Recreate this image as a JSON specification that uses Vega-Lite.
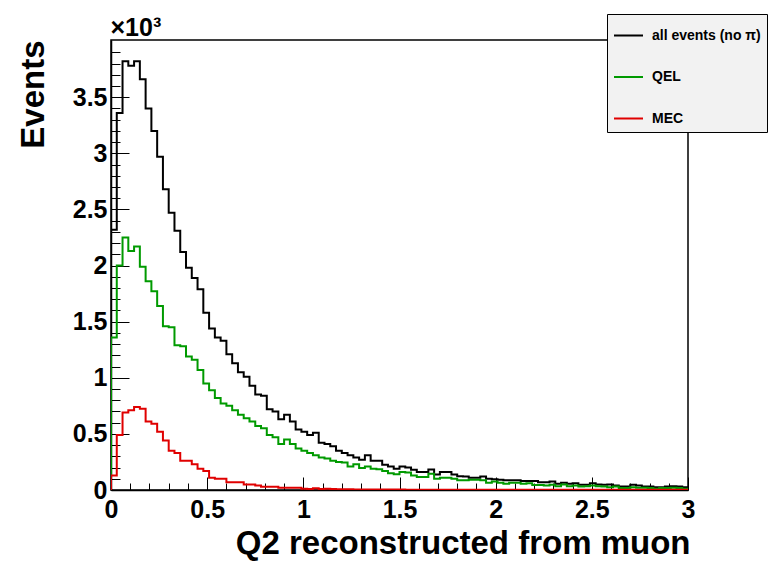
{
  "$schema": "https://vega.github.io/schema/vega-lite/v6.json",
  "width": 577,
  "height": 450,
  "autosize": {"type": "none"},
  "padding": {"left": 111, "top": 40, "right": 86, "bottom": 72},
  "background": "white",
  "config": {
    "view": {"stroke": "#000", "strokeWidth": 1.5},
    "font": "Liberation Sans",
    "axis": {"domainColor": "#000", "domainWidth": 1.5, "tickColor": "#000", "tickWidth": 1, "labelColor": "#000", "titleColor": "#000", "labelFont": "Liberation Sans", "labelFontWeight": "bold", "labelFontSize": 25, "titleFont": "Liberation Sans", "titleFontWeight": "bold", "titleFontSize": 33, "grid": false}
  },
  "data": {"values": [
    {"i":0,"x":0,"a":0,"q":0,"m":0},
    {"i":1,"x":0,"a":2.32,"q":1.36,"m":0.13},
    {"i":2,"x":0.03,"a":3.36,"q":2.00,"m":0.49},
    {"i":3,"x":0.06,"a":3.82,"q":2.25,"m":0.69},
    {"i":4,"x":0.09,"a":3.78,"q":2.13,"m":0.71},
    {"i":5,"x":0.12,"a":3.82,"q":2.17,"m":0.74},
    {"i":6,"x":0.15,"a":3.66,"q":1.99,"m":0.725},
    {"i":7,"x":0.18,"a":3.40,"q":1.86,"m":0.61},
    {"i":8,"x":0.21,"a":3.20,"q":1.77,"m":0.59},
    {"i":9,"x":0.24,"a":2.97,"q":1.64,"m":0.52},
    {"i":10,"x":0.27,"a":2.68,"q":1.46,"m":0.44},
    {"i":11,"x":0.30,"a":2.47,"q":1.45,"m":0.35},
    {"i":12,"x":0.33,"a":2.31,"q":1.29,"m":0.33},
    {"i":13,"x":0.36,"a":2.12,"q":1.28,"m":0.26},
    {"i":14,"x":0.39,"a":1.98,"q":1.19,"m":0.26},
    {"i":15,"x":0.42,"a":1.89,"q":1.16,"m":0.23},
    {"i":16,"x":0.45,"a":1.79,"q":1.07,"m":0.19},
    {"i":17,"x":0.48,"a":1.58,"q":0.95,"m":0.17},
    {"i":18,"x":0.51,"a":1.44,"q":0.89,"m":0.11},
    {"i":19,"x":0.54,"a":1.36,"q":0.82,"m":0.10},
    {"i":20,"x":0.57,"a":1.33,"q":0.77,"m":0.10},
    {"i":21,"x":0.60,"a":1.21,"q":0.75,"m":0.07},
    {"i":22,"x":0.63,"a":1.13,"q":0.71,"m":0.07},
    {"i":23,"x":0.66,"a":1.05,"q":0.67,"m":0.07},
    {"i":24,"x":0.69,"a":1.01,"q":0.64,"m":0.05},
    {"i":25,"x":0.72,"a":0.93,"q":0.61,"m":0.05},
    {"i":26,"x":0.75,"a":0.85,"q":0.57,"m":0.04},
    {"i":27,"x":0.78,"a":0.84,"q":0.55,"m":0.03},
    {"i":28,"x":0.81,"a":0.72,"q":0.49,"m":0.03},
    {"i":29,"x":0.84,"a":0.70,"q":0.47,"m":0.03},
    {"i":30,"x":0.87,"a":0.63,"q":0.41,"m":0.02},
    {"i":31,"x":0.90,"a":0.67,"q":0.45,"m":0.02},
    {"i":32,"x":0.93,"a":0.61,"q":0.41,"m":0.02},
    {"i":33,"x":0.96,"a":0.54,"q":0.37,"m":0.02},
    {"i":34,"x":0.99,"a":0.52,"q":0.35,"m":0.012},
    {"i":35,"x":1.02,"a":0.49,"q":0.33,"m":0.01},
    {"i":36,"x":1.05,"a":0.51,"q":0.31,"m":0.015},
    {"i":37,"x":1.08,"a":0.42,"q":0.29,"m":0.01},
    {"i":38,"x":1.11,"a":0.41,"q":0.28,"m":0.012},
    {"i":39,"x":1.14,"a":0.39,"q":0.26,"m":0.008},
    {"i":40,"x":1.17,"a":0.35,"q":0.25,"m":0.006},
    {"i":41,"x":1.20,"a":0.33,"q":0.245,"m":0.006},
    {"i":42,"x":1.23,"a":0.31,"q":0.21,"m":0.006},
    {"i":43,"x":1.26,"a":0.29,"q":0.23,"m":0.005},
    {"i":44,"x":1.29,"a":0.27,"q":0.195,"m":0.005},
    {"i":45,"x":1.32,"a":0.31,"q":0.21,"m":0.005},
    {"i":46,"x":1.35,"a":0.26,"q":0.19,"m":0.004},
    {"i":47,"x":1.38,"a":0.26,"q":0.185,"m":0.004},
    {"i":48,"x":1.41,"a":0.225,"q":0.17,"m":0.004},
    {"i":49,"x":1.44,"a":0.21,"q":0.15,"m":0.004},
    {"i":50,"x":1.47,"a":0.19,"q":0.14,"m":0.004},
    {"i":51,"x":1.50,"a":0.21,"q":0.16,"m":0.004},
    {"i":52,"x":1.53,"a":0.20,"q":0.155,"m":0.003},
    {"i":53,"x":1.56,"a":0.18,"q":0.13,"m":0.003},
    {"i":54,"x":1.59,"a":0.16,"q":0.115,"m":0.003},
    {"i":55,"x":1.62,"a":0.16,"q":0.115,"m":0.003},
    {"i":56,"x":1.65,"a":0.183,"q":0.145,"m":0.003},
    {"i":57,"x":1.68,"a":0.138,"q":0.10,"m":0.003},
    {"i":58,"x":1.71,"a":0.16,"q":0.11,"m":0.003},
    {"i":59,"x":1.74,"a":0.16,"q":0.11,"m":0.003},
    {"i":60,"x":1.77,"a":0.138,"q":0.10,"m":0.003},
    {"i":61,"x":1.80,"a":0.123,"q":0.087,"m":0.003},
    {"i":62,"x":1.83,"a":0.12,"q":0.087,"m":0.003},
    {"i":63,"x":1.86,"a":0.109,"q":0.092,"m":0.003},
    {"i":64,"x":1.89,"a":0.109,"q":0.092,"m":0.003},
    {"i":65,"x":1.92,"a":0.12,"q":0.087,"m":0.002},
    {"i":66,"x":1.95,"a":0.10,"q":0.064,"m":0.002},
    {"i":67,"x":1.98,"a":0.095,"q":0.075,"m":0.002},
    {"i":68,"x":2.01,"a":0.092,"q":0.064,"m":0.002},
    {"i":69,"x":2.04,"a":0.087,"q":0.055,"m":0.002},
    {"i":70,"x":2.07,"a":0.087,"q":0.064,"m":0.002},
    {"i":71,"x":2.10,"a":0.087,"q":0.064,"m":0.002},
    {"i":72,"x":2.13,"a":0.08,"q":0.055,"m":0.002},
    {"i":73,"x":2.16,"a":0.08,"q":0.06,"m":0.002},
    {"i":74,"x":2.19,"a":0.08,"q":0.045,"m":0.002},
    {"i":75,"x":2.22,"a":0.07,"q":0.045,"m":0.002},
    {"i":76,"x":2.25,"a":0.068,"q":0.04,"m":0.002},
    {"i":77,"x":2.28,"a":0.076,"q":0.046,"m":0.002},
    {"i":78,"x":2.31,"a":0.055,"q":0.034,"m":0.002},
    {"i":79,"x":2.34,"a":0.065,"q":0.05,"m":0.002},
    {"i":80,"x":2.37,"a":0.055,"q":0.034,"m":0.002},
    {"i":81,"x":2.40,"a":0.06,"q":0.04,"m":0.002},
    {"i":82,"x":2.43,"a":0.046,"q":0.031,"m":0.002},
    {"i":83,"x":2.46,"a":0.046,"q":0.034,"m":0.002},
    {"i":84,"x":2.49,"a":0.06,"q":0.04,"m":0.002},
    {"i":85,"x":2.52,"a":0.05,"q":0.034,"m":0.002},
    {"i":86,"x":2.55,"a":0.046,"q":0.031,"m":0.002},
    {"i":87,"x":2.58,"a":0.05,"q":0.025,"m":0.002},
    {"i":88,"x":2.61,"a":0.04,"q":0.031,"m":0.002},
    {"i":89,"x":2.64,"a":0.031,"q":0.017,"m":0.002},
    {"i":90,"x":2.67,"a":0.031,"q":0.017,"m":0.002},
    {"i":91,"x":2.70,"a":0.046,"q":0.025,"m":0.002},
    {"i":92,"x":2.73,"a":0.04,"q":0.02,"m":0.002},
    {"i":93,"x":2.76,"a":0.031,"q":0.02,"m":0.002},
    {"i":94,"x":2.79,"a":0.031,"q":0.017,"m":0.002},
    {"i":95,"x":2.82,"a":0.025,"q":0.011,"m":0.002},
    {"i":96,"x":2.85,"a":0.025,"q":0.017,"m":0.002},
    {"i":97,"x":2.88,"a":0.031,"q":0.017,"m":0.002},
    {"i":98,"x":2.91,"a":0.034,"q":0.02,"m":0.002},
    {"i":99,"x":2.94,"a":0.031,"q":0.017,"m":0.002},
    {"i":100,"x":2.97,"a":0.025,"q":0.011,"m":0.002},
    {"i":101,"x":3.00,"a":0.025,"q":0.011,"m":0.002}
  ]},
  "transform": [{"fold": ["a", "q", "m"], "as": ["s", "v"]}],
  "layer": [
    {
      "mark": {"type": "line", "interpolate": "step-after", "strokeWidth": 2, "clip": true},
      "encoding": {
        "x": {"field": "x", "type": "quantitative", "scale": {"domain": [0, 3], "nice": false},
          "axis": {"orient": "bottom", "values": [0, 0.5, 1, 1.5, 2, 2.5, 3], "tickSize": -13, "labelPadding": 20, "format": "~g", "labelFlush": false,
            "title": "Q2 reconstructed from muon", "titleAlign": "right", "titleAnchor": "end", "titleX": 579, "titleY": 63, "titleBaseline": "alphabetic"}},
        "y": {"field": "v", "type": "quantitative", "scale": {"domain": [0, 4.01], "nice": false},
          "axis": {"orient": "left", "values": [0, 0.5, 1, 1.5, 2, 2.5, 3, 3.5], "tickSize": -18, "labelPadding": 22, "format": "~g", "labelFlush": false,
            "title": "Events", "titleAngle": 270, "titleAlign": "right", "titleBaseline": "alphabetic", "titleX": -68, "titleY": 0}},
        "color": {"field": "s", "type": "nominal",
          "scale": {"domain": ["a", "q", "m"], "range": ["#000000", "#009a00", "#e00000"]},
          "legend": {"orient": "none", "legendX": 496, "legendY": -26, "title": null, "fillColor": "#f2f2f2", "strokeColor": "#000", "padding": 6,
            "symbolType": "stroke", "symbolSize": 841, "symbolStrokeWidth": 2, "labelFontSize": 14, "labelFontWeight": "bold", "labelFont": "Liberation Sans", "labelColor": "#000", "labelOffset": 8, "rowPadding": 18.5,
            "labelExpr": "datum.label == 'a' ? 'all events (no π)' : datum.label == 'q' ? 'QEL' : 'MEC'"}},
        "order": {"field": "i", "type": "quantitative"}
      }
    },
    {
      "mark": {"type": "line", "strokeOpacity": 0},
      "encoding": {
        "x": {"field": "x", "type": "quantitative", "scale": {"domain": [0, 3], "nice": false},
          "axis": {"orient": "bottom", "values": [0.1,0.2,0.3,0.4,0.6,0.7,0.8,0.9,1.1,1.2,1.3,1.4,1.6,1.7,1.8,1.9,2.1,2.2,2.3,2.4,2.6,2.7,2.8,2.9], "tickSize": -7, "labels": false, "domain": false, "title": null}},
        "y": {"field": "v", "type": "quantitative", "scale": {"domain": [0, 4.01], "nice": false},
          "axis": {"orient": "left", "values": [0.1,0.2,0.3,0.4,0.6,0.7,0.8,0.9,1.1,1.2,1.3,1.4,1.6,1.7,1.8,1.9,2.1,2.2,2.3,2.4,2.6,2.7,2.8,2.9,3.1,3.2,3.3,3.4,3.6,3.7,3.8,3.9], "tickSize": -9, "labels": false, "domain": false,
            "title": "×10³", "titleAngle": 0, "titleAlign": "left", "titleBaseline": "alphabetic", "titleX": -1, "titleY": -5, "titleFontSize": 25, "titleFontWeight": "bold"}},
        "detail": {"field": "s", "type": "nominal"},
        "order": {"field": "i", "type": "quantitative"}
      }
    }
  ],
  "resolve": {"axis": {"x": "independent", "y": "independent"}}
}
